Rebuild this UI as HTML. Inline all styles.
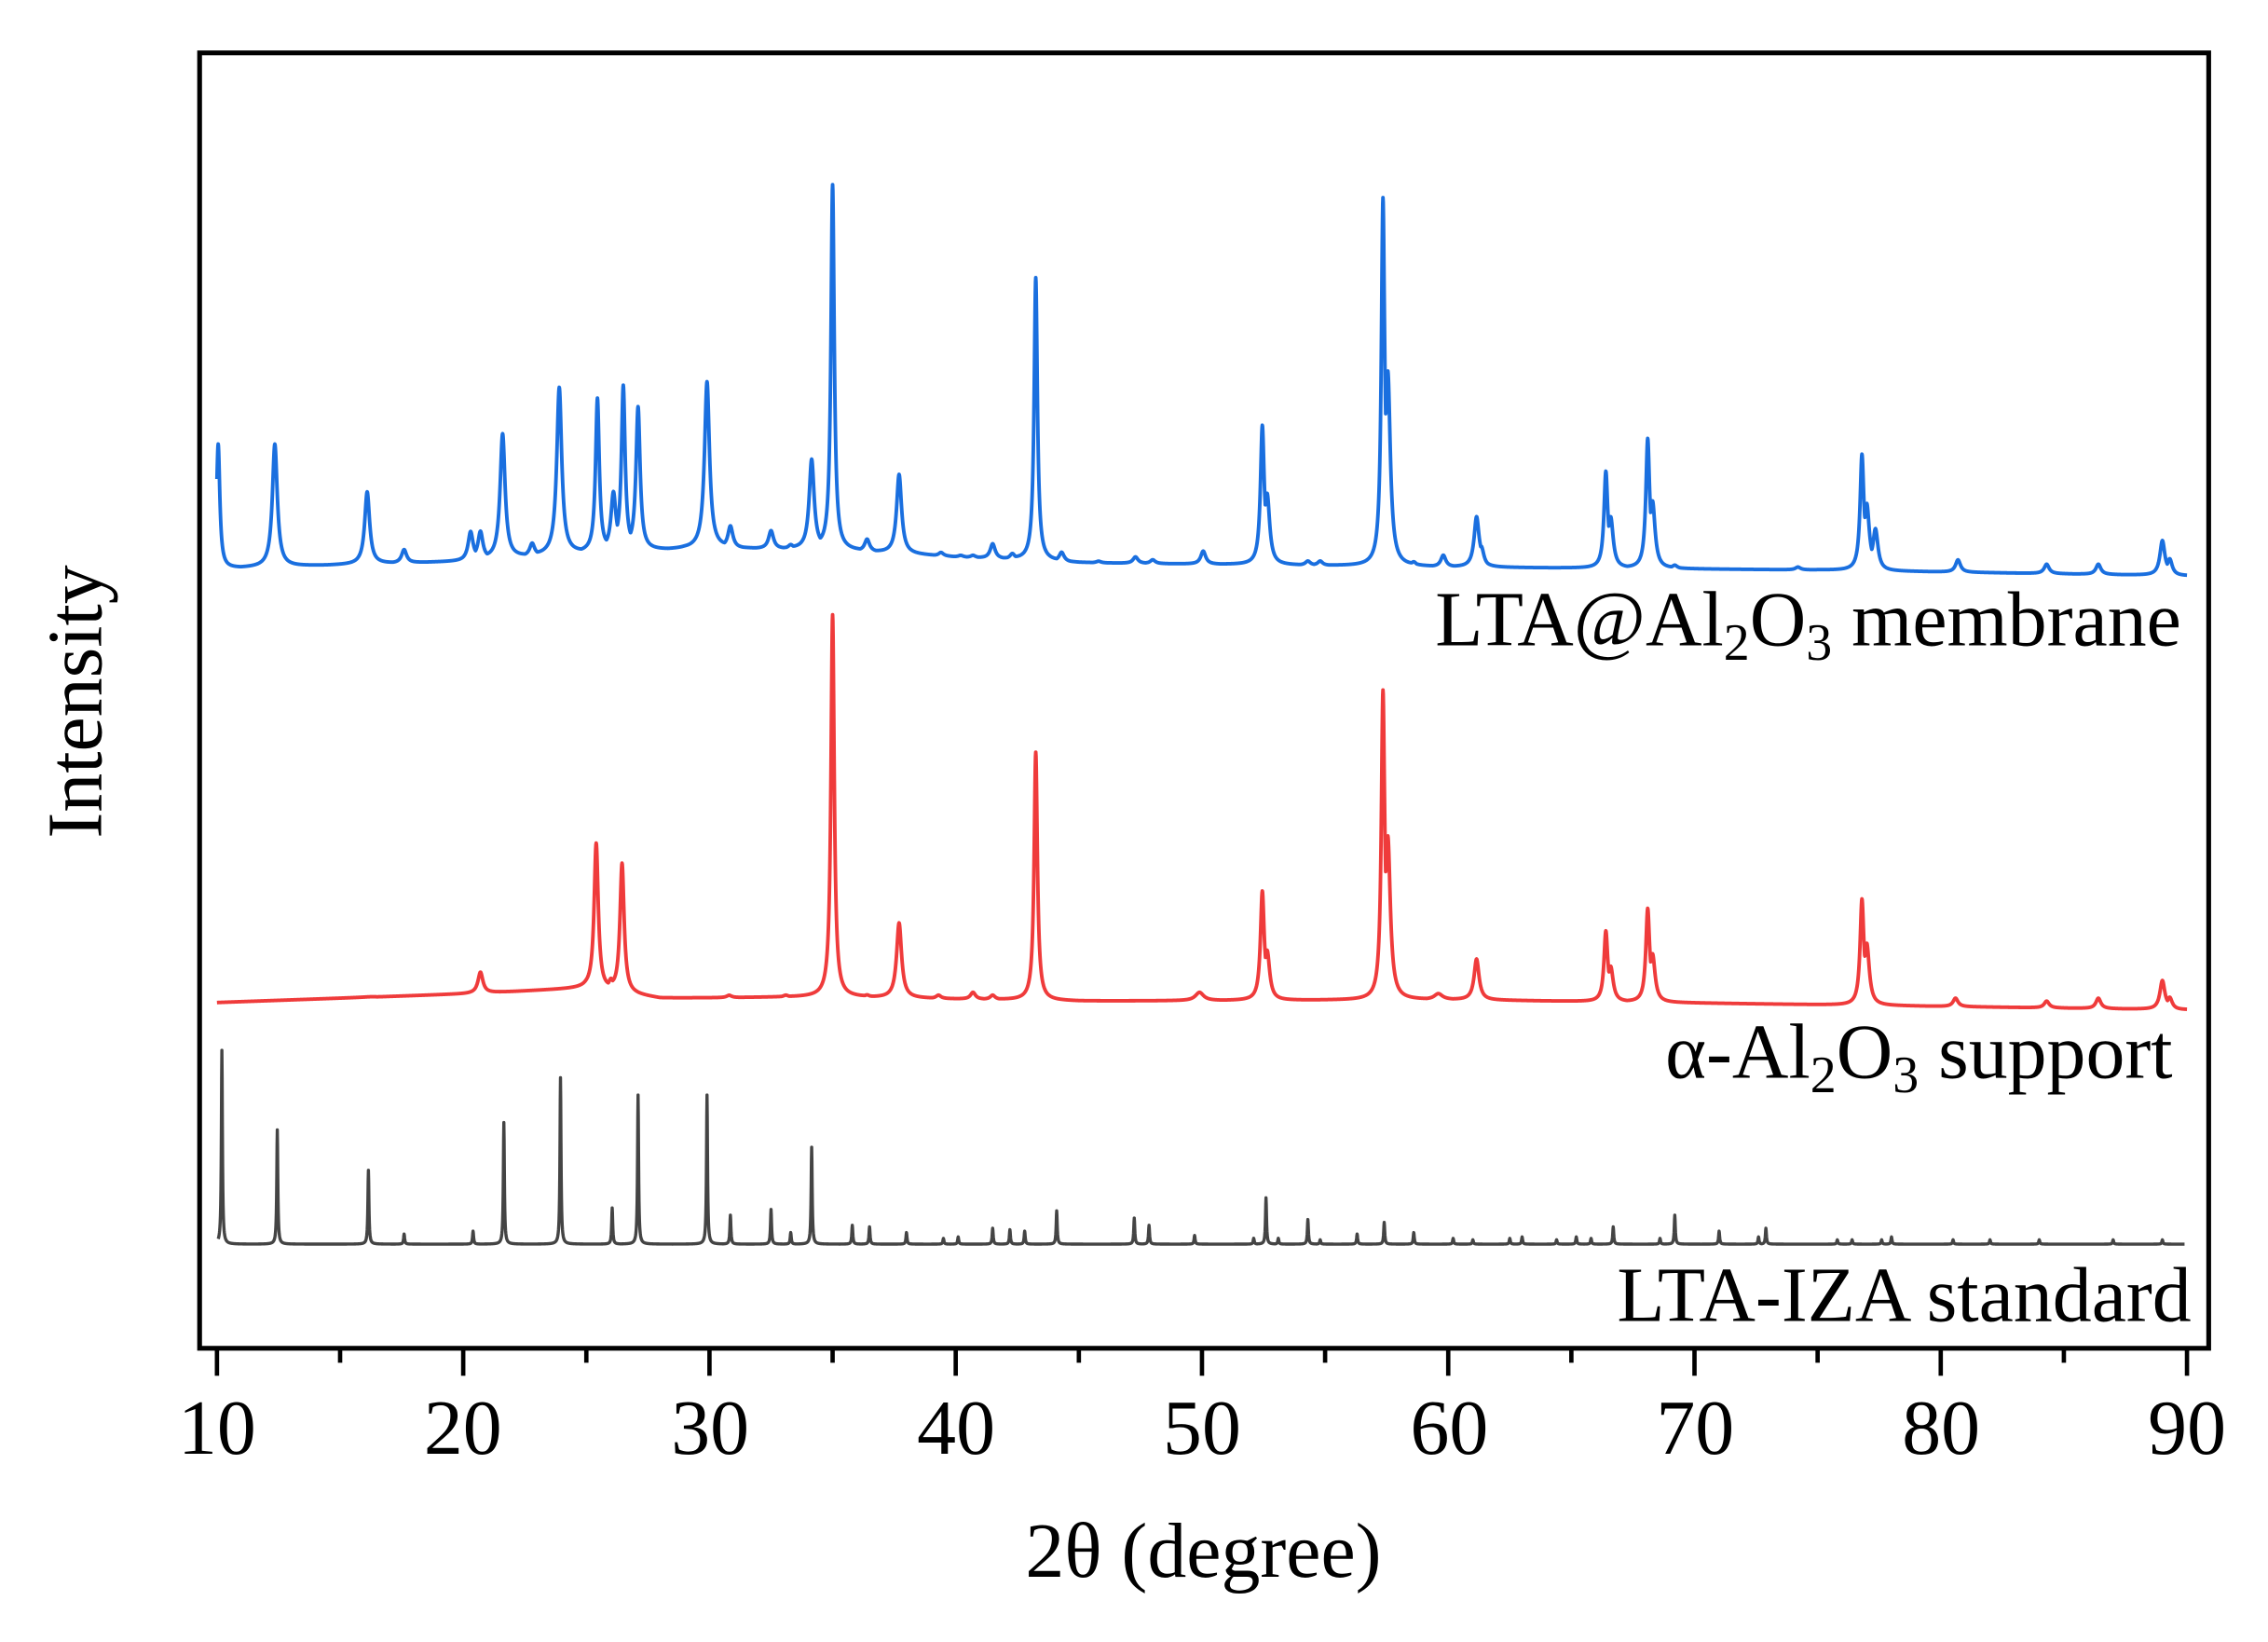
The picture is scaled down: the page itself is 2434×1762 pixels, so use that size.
<!DOCTYPE html>
<html><head><meta charset="utf-8"><style>
html,body{margin:0;padding:0;background:#fff;}
svg{display:block;}
text{font-family:"Liberation Serif",serif;fill:#000;}
</style></head><body>
<svg id="s" width="2434" height="1762" viewBox="0 0 1568 1135" xmlns="http://www.w3.org/2000/svg">
<rect x="0" y="0" width="1568" height="1135" fill="#fff"/>
<path id="pb" fill="none" stroke="#1a6fdf" stroke-width="2.5" stroke-linejoin="round"/>
<path id="pr" fill="none" stroke="#ef3b3b" stroke-width="2.5" stroke-linejoin="round"/>
<path id="pk" fill="none" stroke="#444" stroke-width="2.2" stroke-linejoin="round"/>
<rect x="138" y="36.5" width="1389" height="895.5" fill="none" stroke="#000" stroke-width="3.3"/>
<g id="ticks" stroke="#000" stroke-width="3"></g>
<g font-size="54" text-anchor="middle">
<text x="150" y="1005">10</text><text x="320" y="1005">20</text><text x="491" y="1005">30</text>
<text x="661" y="1005">40</text><text x="831" y="1005">50</text><text x="1002" y="1005">60</text>
<text x="1172" y="1005">70</text><text x="1342" y="1005">80</text><text x="1512" y="1005">90</text>
<text x="832" y="1090">2θ (degree)</text>
<text transform="translate(70,485) rotate(-90)">Intensity</text>
</g>
<g font-size="54" text-anchor="end">
<text x="1508" y="446">LTA@Al<tspan font-size="36" dy="10">2</tspan><tspan dy="-10">O</tspan><tspan font-size="36" dy="10">3</tspan><tspan dy="-10"> membrane</tspan></text>
<text x="1502" y="745">α-Al<tspan font-size="36" dy="10">2</tspan><tspan dy="-10">O</tspan><tspan font-size="36" dy="10">3</tspan><tspan dy="-10"> support</tspan></text>
<text x="1515" y="913">LTA-IZA standard</text>
</g>
</svg>
<script>
(function(){
var X=function(d){return 150+(d-10)*17.025;};
var t=document.getElementById('ticks'),h='';
for(var d=10;d<=90;d+=5){var x=X(d);h+='<line x1="'+x+'" y1="932" x2="'+x+'" y2="'+(d%10==0?951:942)+'"/>';}
t.innerHTML=h;
function interp(bl,d){for(var i=0;i<bl.length-1;i++){if(d<=bl[i+1][0]){var a=bl[i],b=bl[i+1];return a[1]+(b[1]-a[1])*(d-a[0])/(b[0]-a[0]);}}return bl[bl.length-1][1];}
function build(bl,pk,w,x0,x1){var s='';for(var d=x0;d<=x1+1e-9;d+=0.01){var b=interp(bl,d),m=0,sm=0;for(var i=0;i<pk.length;i++){var p=pk[i],ww=p[2]||w,u=(d-p[0])/ww,v=(b-p[1])/(1+u*u);if(v>m)m=v;sm+=v;}var y=b-(m+0.25*(sm-m));s+=(s?'L':'M')+X(d).toFixed(2)+' '+y.toFixed(2);}return s;}
var bb=[[10,393],[20,388],[25,382],[30,379],[35,380],[40,385],[45,389],[60,392],[75,394],[90,398]];
var pb=[[10.05,307,0.08],[12.35,307],[16.1,340],[17.6,380],[20.3,368],[20.7,368],[21.6,300],[22.8,376],[23.9,268],[25.45,276,0.09],[26.1,342],[26.5,268,0.09],[27.1,282,0.1],[29.0,379],[29.9,264],[30.85,364],[32.5,367],[33.3,377],[34.15,318],[35.0,128,0.08],[35.85,381],[36.4,373],[37.7,328],[39.4,382],[40.2,384],[40.7,384],[41.5,376],[42.3,383],[43.25,192,0.08],[44.3,382],[45.8,388],[47.3,385],[48.0,387],[50.05,381],[52.45,297,0.09],[52.65,345],[54.3,388],[54.8,388],[57.35,145,0.08],[57.55,265],[58.6,389],[59.8,384],[61.15,358],[61.35,380],[66.4,328,0.09],[66.6,360],[68.1,306,0.09],[68.3,350],[69.2,391],[74.2,392],[76.8,317,0.09],[77.0,352],[77.35,367],[80.7,387],[84.3,390],[86.4,390],[89.0,374],[89.3,387]];
document.getElementById('pb').setAttribute('d',build(bb,pb,0.12,10,90));
var rb=[[10,693],[20,687],[25,683],[28,690],[35,689],[45,692],[60,691],[90,698]];
var pr=[[16.3,689,0.3],[20.7,672],[25.4,583,0.1],[26.0,678],[26.45,597,0.1],[30.8,688],[33.1,688],[35.0,425,0.08],[36.4,688],[37.7,638],[39.3,688],[40.7,686],[41.5,688],[43.25,520,0.08],[49.9,686,0.2],[52.45,618,0.09],[52.65,660],[57.35,484,0.08],[57.55,585],[59.6,687,0.2],[61.15,663],[66.4,645,0.09],[66.6,670],[68.1,630,0.09],[68.3,662],[76.8,624,0.09],[77.0,655],[80.6,690],[84.3,692],[86.4,690],[89.0,678],[89.3,690]];
document.getElementById('pr').setAttribute('d',build(rb,pr,0.12,10,90));
var kb=[[10,860],[90,860]];
var pk=[[10.2,726],[12.45,781],[16.15,809],[17.6,853],[20.4,851],[21.65,776],[23.95,745],[26.05,835],[27.1,757],[29.9,757],[30.85,840],[32.5,836],[33.3,852],[34.15,793],[35.8,847],[36.5,848],[38.0,852],[39.5,856],[40.1,855],[41.5,849],[42.2,850],[42.8,851],[44.1,837],[47.25,842],[47.85,847],[49.7,854],[52.1,856],[52.6,828],[53.1,856],[54.3,843],[54.8,857],[56.3,853],[57.4,845],[58.6,852],[60.2,856],[61.0,857],[62.5,856],[63.0,855],[64.4,857],[65.2,855],[65.8,856],[66.7,848],[68.6,856],[69.2,840],[71.0,851],[72.6,855],[72.9,849],[75.8,857],[76.4,857],[77.6,857],[78.0,855],[80.5,857],[82.0,857],[84.0,857],[87.0,857],[89.0,857]];
document.getElementById('pk').setAttribute('d',build(kb,pk,0.025,10.05,89.9));
})();
</script>
</body></html>
